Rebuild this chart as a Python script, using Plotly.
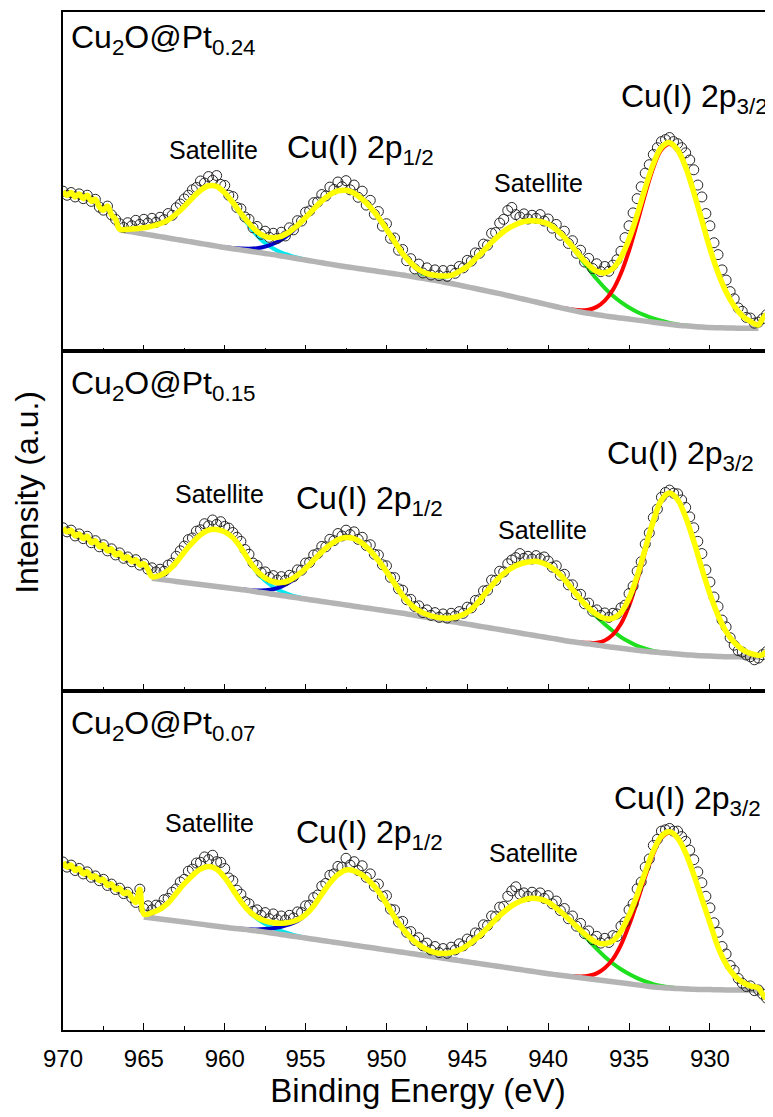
import numpy as np
import plotly.graph_objects as go
from plotly.subplots import make_subplots

# ---------------- data ----------------
DATA_START = 970.0   # eV, first data point
DATA_STEP = 0.25     # eV
FIT_STEP = 0.5       # eV

# measured spectra (open circles), 970.00 -> 926.00 eV
data1 = [47.2, 46.0, 46.8, 45.5, 46.4, 45.0, 46.0, 44.2,
         44.8, 42.5, 41.6, 42.8, 40.2, 38.9, 37.6, 36.5,
         37.9, 37.0, 38.6, 37.4, 38.9, 37.8, 39.2, 38.0,
         39.5, 38.8, 40.6, 40.1, 42.3, 43.4, 44.9, 46.0,
         47.6, 48.3, 50.2, 49.6, 51.5, 50.4, 51.8, 49.2,
         48.9, 46.0, 45.6, 42.4, 42.0, 39.6, 38.9, 36.4,
         36.8, 34.5, 35.4, 33.6, 34.8, 33.3, 35.1, 34.0,
         36.4, 35.8, 38.5, 38.4, 41.0, 41.4, 43.8, 44.0,
         46.2, 45.8, 48.4, 47.7, 49.9, 48.5, 50.3, 47.6,
         49.0, 45.4, 47.2, 43.1, 44.5, 40.4, 41.2, 36.9,
         37.6, 33.3, 33.4, 29.8, 30.0, 26.7, 27.3, 24.3,
         25.7, 23.1, 24.6, 22.5, 24.0, 22.3, 23.8, 22.1,
         23.9, 23.0, 25.0, 24.6, 26.8, 26.6, 29.0, 28.9,
         31.6, 31.3, 34.8, 35.0, 37.8, 38.9, 41.5, 42.4,
         40.3, 39.6, 40.5, 39.0, 40.1, 39.2, 40.3, 38.4,
         39.0, 36.3, 37.4, 34.2, 35.4, 31.8, 32.6, 28.9,
         29.8, 26.3, 27.4, 24.4, 25.8, 23.5, 25.0, 23.6,
         25.4, 27.0, 29.5, 33.5, 37.0, 40.8, 45.0, 48.5,
         52.5, 55.0, 58.0, 60.0, 61.8, 62.4, 63.0, 61.8,
         61.2, 60.0, 58.5, 56.4, 53.5, 49.0, 45.5, 40.6,
         37.0, 32.0, 28.5, 24.0, 21.0, 17.6, 15.5, 12.8,
         11.8, 10.0, 9.8, 8.3, 8.6, 9.6, 10.8, 9.2,
         10.5]

data2 = [48.0, 46.8, 47.3, 45.6, 46.2, 44.8, 45.5, 43.6,
         44.2, 42.4, 43.0, 41.2, 41.8, 40.0, 40.6, 39.0,
         39.4, 38.0, 38.6, 37.0, 37.4, 35.8, 36.2, 35.0,
         35.8, 35.2, 37.0, 37.6, 39.6, 41.2, 42.6, 44.5,
         45.0, 47.0, 47.4, 49.2, 48.6, 50.3, 49.0, 49.8,
         48.4, 47.9, 46.6, 45.2, 44.0, 41.6, 40.2, 37.6,
         36.9, 34.8, 35.0, 33.4, 33.9, 32.6, 33.6, 32.5,
         34.0, 33.6, 35.6, 35.5, 37.6, 37.8, 40.0, 40.4,
         42.5, 42.4, 44.6, 44.2, 46.3, 45.6, 47.3, 46.0,
         46.8, 44.6, 45.2, 42.8, 43.0, 40.2, 40.0, 37.1,
         36.8, 33.4, 33.3, 30.0, 29.6, 26.8, 26.9, 24.8,
         25.0, 23.0, 23.8, 22.2, 23.0, 21.6, 22.6, 21.4,
         22.8, 22.0, 23.3, 22.8, 24.6, 24.4, 26.6, 26.8,
         29.4, 29.6, 32.6, 32.5, 35.2, 35.0, 37.4, 38.5,
         39.2, 40.4, 39.0, 39.6, 38.8, 39.8, 38.9, 39.4,
         38.2, 36.4, 36.8, 34.0, 34.3, 31.2, 31.2, 28.3,
         28.4, 25.6, 25.8, 23.4, 23.8, 22.2, 22.9, 21.6,
         22.8, 22.6, 24.4, 25.2, 28.6, 30.8, 35.2, 38.0,
         43.2, 46.5, 51.0, 53.5, 57.0, 58.4, 59.1, 58.2,
         58.0, 56.2, 54.0, 51.2, 48.0, 44.0, 40.4, 35.6,
         32.0, 27.6, 24.8, 20.8, 18.8, 15.6, 13.4, 11.8,
         11.4, 10.5, 10.0, 9.1, 9.6, 10.6, 11.5, 12.0,
         11.2]

data3 = [49.5, 48.0, 48.6, 47.0, 47.6, 46.0, 46.6, 45.0,
         45.4, 44.0, 44.4, 42.6, 43.0, 41.4, 41.8, 40.2,
         40.6, 39.0, 37.6, 41.5, 35.8, 36.6, 35.4, 36.8,
         36.6, 38.4, 38.8, 40.6, 41.6, 43.6, 44.4, 46.8,
         47.4, 49.2, 49.4, 51.0, 50.2, 51.5, 49.6, 49.4,
         47.6, 44.8, 44.0, 41.2, 40.0, 37.8, 37.2, 35.0,
         35.4, 33.8, 34.6, 32.8, 34.2, 32.5, 33.6, 32.4,
         33.8, 33.0, 34.8, 34.6, 36.6, 36.8, 39.0, 39.8,
         42.4, 43.2, 45.6, 46.0, 48.2, 48.0, 50.6, 48.6,
         49.6, 47.0, 48.4, 45.0, 46.0, 42.4, 43.0, 39.4,
         39.6, 35.6, 35.4, 31.8, 32.0, 28.8, 29.0, 26.4,
         27.2, 24.8, 25.6, 23.6, 24.6, 22.8, 24.0, 22.6,
         24.4, 23.6, 25.4, 24.8, 26.8, 26.4, 28.6, 28.4,
         31.0, 30.8, 33.6, 33.4, 36.2, 36.4, 39.4, 41.0,
         42.2, 40.0, 40.4, 39.4, 40.6, 39.6, 40.4, 38.8,
         39.6, 37.2, 38.0, 35.2, 35.8, 32.8, 33.6, 30.6,
         31.4, 28.4, 29.2, 26.6, 27.6, 25.6, 27.0, 25.8,
         27.8, 27.6, 30.6, 31.8, 35.4, 37.2, 41.6, 43.6,
         48.0, 50.4, 54.4, 56.2, 58.6, 59.0, 59.4, 58.6,
         58.6, 57.0, 55.6, 53.0, 50.2, 46.6, 43.4, 39.4,
         36.0, 31.6, 28.8, 24.6, 22.4, 19.0, 17.6, 15.2,
         13.8, 12.8, 13.0, 11.6, 11.8, 10.6, 9.4, 10.8,
         11.4]

# Shirley-type backgrounds (0.5 eV grid, from fit start to 927.0 eV)
bkg1_start = 966.5
bkg1 = [35.8, 35.4, 35.0, 34.6, 34.2, 33.8, 33.4, 33.0, 32.6, 32.2,
        31.8, 31.4, 31.0, 30.6, 30.25, 29.9, 29.55, 29.2, 28.85, 28.5,
        28.1, 27.7, 27.3, 26.9, 26.5, 26.1, 25.7, 25.3, 24.95, 24.6,
        24.25, 23.9, 23.55, 23.2, 22.85, 22.5, 22.1, 21.7, 21.3, 20.9,
        20.45, 20.0, 19.5, 19.0, 18.5, 18.0, 17.5, 17.0, 16.45, 15.9,
        15.35, 14.8, 14.25, 13.7, 13.15, 12.6, 12.1, 11.6, 11.2, 10.8,
        10.45, 10.1, 9.8, 9.5, 9.2, 8.9, 8.6, 8.3, 8.0, 7.7,
        7.5, 7.3, 7.15, 7.0, 6.95, 6.9, 6.85, 6.8, 6.8, 6.8]
bkg2_start = 964.5
bkg2 = [33.1, 32.8, 32.5, 32.2, 31.9, 31.6, 31.3, 31.0, 30.7, 30.4,
        30.1, 29.8, 29.5, 29.1, 28.8, 28.4, 28.05, 27.7, 27.35, 27.0,
        26.65, 26.3, 25.95, 25.6, 25.25, 24.9, 24.55, 24.2, 23.85, 23.5,
        23.15, 22.8, 22.4, 22.0, 21.6, 21.2, 20.8, 20.4, 20.0, 19.6,
        19.2, 18.8, 18.4, 18.0, 17.6, 17.2, 16.8, 16.4, 16.0, 15.6,
        15.2, 14.8, 14.4, 14.1, 13.8, 13.45, 13.1, 12.8, 12.5, 12.2,
        11.9, 11.65, 11.4, 11.2, 11.0, 10.8, 10.6, 10.45, 10.3, 10.2,
        10.1, 10.0, 10.0, 9.95, 9.9, 9.9]
bkg3_start = 965.0
bkg3 = [33.3, 33.0, 32.7, 32.4, 32.1, 31.8, 31.5, 31.2, 30.9, 30.6,
        30.3, 30.0, 29.75, 29.5, 29.2, 28.85, 28.5, 28.15, 27.8, 27.45,
        27.1, 26.75, 26.4, 26.05, 25.7, 25.35, 25.0, 24.65, 24.3, 23.95,
        23.6, 23.25, 22.9, 22.55, 22.2, 21.85, 21.5, 21.15, 20.8, 20.45,
        20.1, 19.75, 19.4, 19.05, 18.7, 18.35, 18.0, 17.65, 17.3, 16.95,
        16.6, 16.3, 16.0, 15.7, 15.4, 15.1, 14.8, 14.5, 14.2, 13.9,
        13.6, 13.3, 13.0, 12.7, 12.5, 12.35, 12.2, 12.1, 12.0, 11.95,
        11.9, 11.85, 11.8, 11.8, 11.8, 11.8, 11.8]

# fitted components: height above background, 0.5 eV grid, (window start, values)
cyan1_start, cyan1 = 966.5, [0.2, 0.6, 1.1, 1.8, 2.7, 3.8, 5.3, 7.5, 10.1, 13.0,
                             15.6, 17.4, 17.6, 16.0, 13.4, 10.3, 7.5, 4.9, 3.0, 1.8,
                             1.0, 0.6, 0.3, 0.1]
blue1_start, blue1 = 960.0, [0.1, 0.2, 0.4, 0.7, 1.2, 2.0, 3.2, 4.8, 6.9, 9.5,
                             12.4, 15.4, 18.2, 20.5, 22.0, 22.5, 22.0, 20.6, 18.6, 15.9,
                             12.8, 9.5, 6.3, 3.8, 2.0, 1.0, 0.5, 0.25, 0.1, 0.05, 0.0]
green1_start, green1 = 948.5, [0.2, 0.35, 0.6, 1.0, 1.5, 2.3, 4.0, 6.0, 8.8, 11.6,
                               14.6, 17.3, 19.7, 21.5, 22.9, 23.7, 24.0, 23.8, 22.7, 20.9,
                               18.5, 15.8, 13.1, 10.5, 8.2, 6.3, 4.7, 3.4, 2.4, 1.7,
                               1.1, 0.7, 0.4, 0.25, 0.15, 0.1, 0.05, 0.0]
red1_start, red1 = 939.0, [0.1, 0.2, 0.5, 1.1, 2.3, 4.5, 8.0, 13.2, 20.2, 28.6,
                           37.5, 45.5, 51.1, 53.1, 51.4, 46.6, 39.5, 31.4, 23.3, 16.2,
                           10.6, 6.5, 3.7, 2.0, 1.0]

cyan2_start, cyan2 = 964.5, [0.5, 1.2, 2.9, 5.6, 9.0, 12.0, 14.6, 16.3, 16.8, 16.4,
                             15.0, 12.2, 8.6, 5.7, 3.6, 2.2, 1.2, 0.6, 0.25, 0.0]
blue2_start, blue2 = 959.0, [0.1, 0.2, 0.4, 0.8, 1.5, 2.6, 4.2, 6.4, 9.0, 11.8,
                             14.6, 17.0, 18.9, 19.9, 19.9, 18.9, 17.0, 14.5, 11.6, 8.4,
                             5.2, 3.0, 1.6, 0.8, 0.4, 0.2, 0.1, 0.05, 0.0]
green2_start, green2 = 947.5, [0.05, 0.15, 0.4, 0.9, 1.9, 3.5, 5.9, 9.2, 12.5, 15.4,
                               17.8, 19.6, 20.9, 21.7, 21.9, 21.3, 20.0, 18.0, 15.4, 12.7,
                               10.3, 8.3, 6.5, 4.8, 3.3, 2.2, 1.3, 0.7, 0.3, 0.15,
                               0.05, 0.0]
red2_start, red2 = 938.5, [0.05, 0.1, 0.3, 0.7, 1.7, 3.7, 7.2, 12.8, 20.5, 29.5,
                           38.3, 44.8, 47.2, 45.5, 40.5, 33.6, 25.7, 18.3, 12.1, 7.4,
                           4.2, 2.2, 1.1, 0.5]

cyan3_start, cyan3 = 965.0, [0.8, 1.6, 2.9, 5.0, 8.2, 11.3, 14.0, 16.2, 17.3, 16.8,
                             14.6, 11.4, 8.0, 5.4, 3.6, 2.4, 1.6, 1.0, 0.6, 0.3,
                             0.1]
blue3_start, blue3 = 959.5, [0.05, 0.1, 0.2, 0.4, 0.9, 1.5, 2.3, 3.3, 4.7, 6.8,
                             9.8, 13.6, 17.3, 20.1, 21.8, 21.9, 21.0, 19.3, 16.9, 13.6,
                             10.0, 7.0, 4.6, 2.8, 1.6, 0.8, 0.4, 0.2, 0.1, 0.0]
green3_start, green3 = 948.0, [0.1, 0.25, 0.5, 1.0, 1.8, 3.0, 4.8, 7.0, 9.5, 12.3,
                               15.0, 17.4, 19.3, 20.7, 21.5, 21.6, 21.1, 19.6, 17.9, 15.8,
                               13.6, 11.3, 9.1, 7.1, 5.4, 4.0, 2.9, 2.0, 1.3, 0.8,
                               0.5, 0.25, 0.1, 0.05, 0.0]
red3_start, red3 = 938.5, [0.2, 0.4, 0.9, 1.9, 3.8, 6.7, 11.2, 17.3, 24.5, 32.2,
                           39.2, 44.1, 45.8, 44.3, 40.0, 33.8, 26.7, 19.7, 12.6, 7.6,
                           4.3, 2.3, 1.2, 0.6]

sample_labels = ["Cu<sub>2</sub>O@Pt<sub>0.24</sub>",
                 "Cu<sub>2</sub>O@Pt<sub>0.15</sub>",
                 "Cu<sub>2</sub>O@Pt<sub>0.07</sub>"]
x_ticks = [970, 965, 960, 955, 950, 945, 940, 935, 930]

# ---------------- styling ----------------
FONT = "Liberation Sans, Arial, Helvetica, sans-serif"
COL = {"cyan": "#00e8f0", "blue": "#0000c8", "green": "#1ee01e", "red": "#ff0000"}

panels = [
    dict(data=data1, bstart=bkg1_start, bkg=bkg1,
         comps=[("cyan", cyan1_start, cyan1), ("blue", blue1_start, blue1),
                ("green", green1_start, green1), ("red", red1_start, red1)],
         labels=[(sample_labels[0], 969.65, 92.0, 32, "left"),
                 ("Satellite", 960.71, 59.2, 25, "center"),
                 ("Cu(I) 2p<sub>1/2</sub>", 956.29, 59.4, 32, "left"),
                 ("Satellite", 940.61, 49.5, 25, "center"),
                 ("Cu(I) 2p<sub>3/2</sub>", 935.63, 74.4, 32, "left")]),
    dict(data=data2, bstart=bkg2_start, bkg=bkg2,
         comps=[("cyan", cyan2_start, cyan2), ("blue", blue2_start, blue2),
                ("green", green2_start, green2), ("red", red2_start, red2)],
         labels=[(sample_labels[1], 969.65, 90.0, 32, "left"),
                 ("Satellite", 960.30, 58.1, 25, "center"),
                 ("Cu(I) 2p<sub>1/2</sub>", 955.73, 56.0, 32, "left"),
                 ("Satellite", 940.35, 47.3, 25, "center"),
                 ("Cu(I) 2p<sub>3/2</sub>", 936.47, 69.2, 32, "left")]),
    dict(data=data3, bstart=bkg3_start, bkg=bkg3,
         comps=[("cyan", cyan3_start, cyan3), ("blue", blue3_start, blue3),
                ("green", green3_start, green3), ("red", red3_start, red3)],
         labels=[(sample_labels[2], 969.65, 89.8, 32, "left"),
                 ("Satellite", 960.93, 60.9, 25, "center"),
                 ("Cu(I) 2p<sub>1/2</sub>", 955.73, 57.7, 32, "left"),
                 ("Satellite", 940.90, 52.1, 25, "center"),
                 ("Cu(I) 2p<sub>3/2</sub>", 936.07, 67.6, 32, "left")]),
]

fig = make_subplots(rows=3, cols=1, shared_xaxes=True, vertical_spacing=0)

annotations = []
for r, p in enumerate(panels, start=1):
    data = np.array(p["data"], dtype=float)
    xd = DATA_START - DATA_STEP * np.arange(len(data))
    bkg = np.array(p["bkg"], dtype=float)
    xg = p["bstart"] - FIT_STEP * np.arange(len(bkg))
    total = bkg.copy()
    for name, start, vals in p["comps"]:
        vals = np.array(vals, dtype=float)
        i0 = int(round((p["bstart"] - start) / FIT_STEP))
        seg = slice(i0, i0 + len(vals))
        total[seg] += vals
        fig.add_trace(go.Scatter(x=xg[seg], y=bkg[seg] + vals, mode="lines",
                                 line=dict(color=COL[name], width=4, shape="spline"),
                                 hoverinfo="skip", showlegend=False), row=r, col=1)
    fig.add_trace(go.Scatter(x=xg, y=bkg, mode="lines",
                             line=dict(color="#b4b4b4", width=5.5, shape="spline"),
                             hoverinfo="skip", showlegend=False), row=r, col=1)
    fig.add_trace(go.Scatter(x=xd, y=data, mode="markers",
                             marker=dict(symbol="circle-open", size=10, color="#262626",
                                         line=dict(width=1)),
                             hoverinfo="skip", showlegend=False), row=r, col=1)
    left = xd > p["bstart"] + 1e-9
    right = xd < xg[-1] - 1e-9
    yx = np.concatenate([xd[left], xg, xd[right]])
    yy = np.concatenate([data[left], total, data[right]])
    fig.add_trace(go.Scatter(x=yx, y=yy, mode="lines",
                             line=dict(color="#ffff00", width=5.5, shape="spline"),
                             hoverinfo="skip", showlegend=False), row=r, col=1)
    xref = "x" if r == 1 else f"x{r}"
    yref = "y" if r == 1 else f"y{r}"
    for text, xv, yv, size, anchor in p["labels"]:
        annotations.append(dict(text=text, x=xv, y=yv, xref=xref, yref=yref,
                                xanchor=anchor, yanchor="middle", showarrow=False,
                                font=dict(family=FONT, size=size, color="black")))

annotations.append(dict(text="Intensity (a.u.)", xref="paper", yref="paper",
                        x=-0.051, y=0.5285, xanchor="center", yanchor="middle",
                        textangle=-90, showarrow=False,
                        font=dict(family=FONT, size=32, color="black")))

for r in range(1, 4):
    fig.update_xaxes(range=[970, 926.1], showline=True, linecolor="black", linewidth=1.5,
                     mirror=True, ticks="inside", ticklen=7, tickwidth=1.2, tickcolor="black",
                     tickmode="array", tickvals=x_ticks, ticktext=[str(t) for t in x_ticks],
                     minor=dict(ticks="inside", ticklen=4, tickwidth=1.2, tickcolor="black",
                                tickmode="array",
                                tickvals=[t - 2.5 for t in x_ticks]),
                     showgrid=False, zeroline=False, ticklabelstandoff=6,
                     tickfont=dict(family=FONT, size=24, color="black"),
                     row=r, col=1)
    fig.update_yaxes(range=[0, 100], showline=True, linecolor="black", linewidth=1.5,
                     mirror=False, ticks="", showticklabels=False, showgrid=False,
                     zeroline=False, row=r, col=1)

fig.update_xaxes(title=dict(text="Binding Energy (eV)", standoff=8,
                            font=dict(family=FONT, size=33, color="black")),
                 row=3, col=1)

# the page body adds an 8 px offset, so the figure is 8 px smaller than the window
fig.update_layout(width=765, height=1109, margin=dict(l=55, r=0, t=4, b=87),
                  paper_bgcolor="white", plot_bgcolor="white",
                  annotations=annotations, showlegend=False,
                  font=dict(family=FONT, color="black"))

fig.write_html("out.html")
